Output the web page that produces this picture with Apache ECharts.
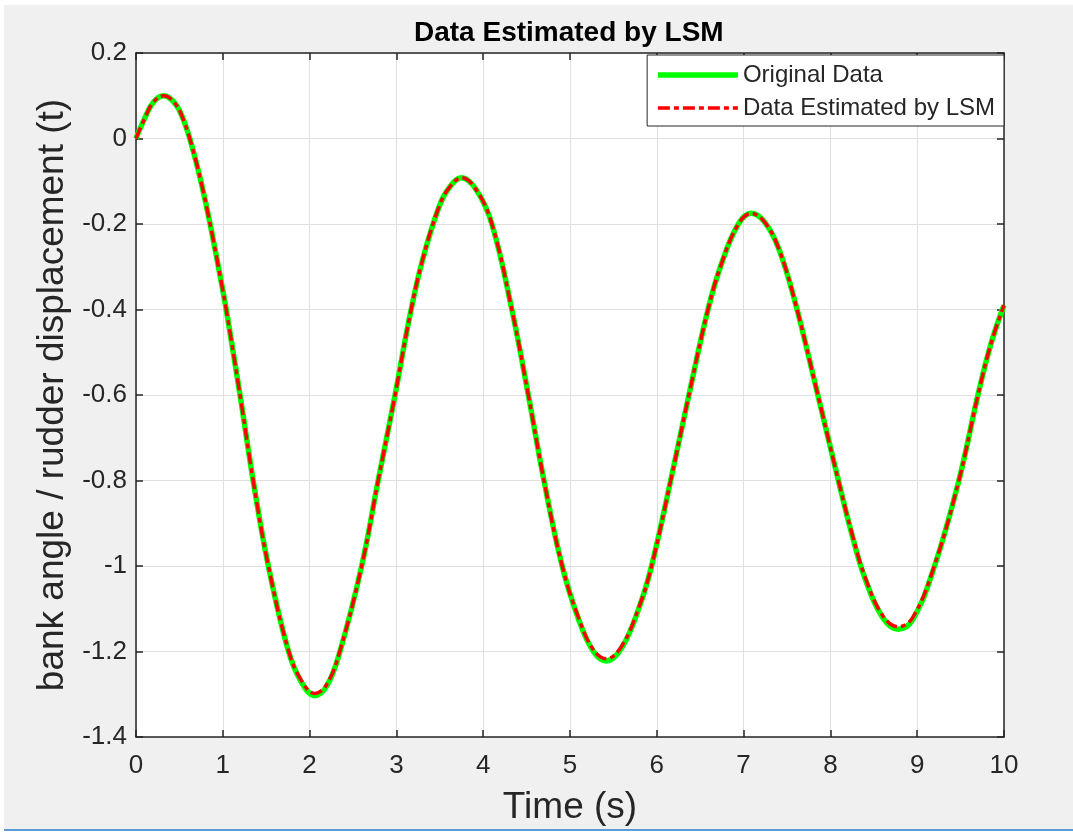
<!DOCTYPE html>
<html>
<head>
<meta charset="utf-8">
<title>Data Estimated by LSM</title>
<script src="https://cdn.jsdelivr.net/npm/echarts@6/dist/echarts.min.js"></script>
<style>
  html, body { margin: 0; padding: 0; background: #ffffff; }
  #fig { position: absolute; left: 4px; top: 5px; width: 1069px; height: 824px; background: #f0f0f0; border-bottom: 2px solid #5b9bd5; }
  #main { position: absolute; left: 0; top: 0; width: 1073px; height: 832px; }
</style>
</head>
<body>
<div id="fig"></div>
<div id="main"></div>
<script>
// values
var timeSec = [0, 0.1, 0.2, 0.32, 0.45, 0.55, 0.65, 0.75, 0.85, 1.0, 1.06,
  1.21, 1.35, 1.52, 1.75, 1.9, 2.06, 2.2, 2.35, 2.6, 2.79,
  2.98, 3.15, 3.3, 3.5, 3.62, 3.75, 3.92, 4.1, 4.33, 4.52, 4.7,
  4.91, 5.1, 5.27, 5.42, 5.6, 5.8, 5.94, 6.16, 6.37, 6.59,
  6.75, 6.94, 7.09, 7.24, 7.4, 7.59, 7.82, 8.08, 8.25, 8.4,
  8.6, 8.78, 8.95, 9.2, 9.48, 9.7, 9.85, 10];

var originalData = [0, 0.047, 0.085, 0.100, 0.082, 0.042, -0.022, -0.102, -0.196, -0.355, -0.425,
  -0.615, -0.80, -0.995, -1.195, -1.27, -1.303, -1.28, -1.2, -1.0, -0.8,
  -0.605, -0.42, -0.285, -0.155, -0.112, -0.092, -0.12, -0.2, -0.4, -0.6, -0.8,
  -1.0, -1.125, -1.2, -1.222, -1.19, -1.095, -1.0, -0.8, -0.6, -0.4,
  -0.29, -0.2, -0.175, -0.195, -0.255, -0.38, -0.57, -0.79, -0.928, -1.03,
  -1.12, -1.148, -1.125, -1.0, -0.8, -0.6, -0.48, -0.39];

var lsmData = [0, 0.047, 0.085, 0.100, 0.082, 0.042, -0.022, -0.102, -0.196, -0.355, -0.425,
  -0.615, -0.80, -0.995, -1.193, -1.266, -1.298, -1.276, -1.198, -1.0, -0.8,
  -0.605, -0.42, -0.285, -0.155, -0.112, -0.092, -0.12, -0.2, -0.4, -0.6, -0.8,
  -1.0, -1.122, -1.196, -1.217, -1.186, -1.093, -1.0, -0.8, -0.6, -0.4,
  -0.29, -0.2, -0.175, -0.195, -0.255, -0.38, -0.57, -0.79, -0.925, -1.026,
  -1.115, -1.142, -1.12, -0.998, -0.8, -0.6, -0.48, -0.39];

var xTicks = { min: 0, max: 10, interval: 1 };
var yTicks = { min: -1.4, max: 0.2, interval: 0.2 };

function pairs(xs, ys) {
  var out = [];
  for (var i = 0; i < xs.length; i++) {
    out.push([xs[i], ys[i]]);
  }
  return out;
}

var axisColor = '#262626';
var fontName = 'Liberation Sans';
var greenStyle = { color: '#00ff00', width: 5.5 };
var redStyle = { color: '#ff0000', width: 3.5, type: [12, 4, 5, 4] };

// box-style axes (ticks on all four sides, labels only bottom/left)
function frameAxis(pos, t) {
  return {
    type: 'value', position: pos,
    min: t.min, max: t.max, interval: t.interval,
    axisLine: { show: true, onZero: false, lineStyle: { color: axisColor, width: 1.5 } },
    axisTick: { show: true, inside: true, length: 7, lineStyle: { color: axisColor, width: 1.5 } },
    axisLabel: { show: false },
    splitLine: { show: false }
  };
}

var chart = echarts.init(document.getElementById('main'));

var option = {
  animation: false,
  title: {
    text: 'Data Estimated by LSM',
    left: 409,
    top: 14,
    textStyle: { fontFamily: fontName, fontSize: 28, fontWeight: 'bold', color: '#000' }
  },
  legend: {
    orient: 'vertical',
    right: 69,
    top: 55,
    padding: [8, 9, 6, 8],
    itemGap: 9,
    itemWidth: 80,
    itemHeight: 14,
    backgroundColor: '#ffffff',
    borderColor: axisColor,
    borderWidth: 1,
    borderRadius: 0,
    itemStyle: { opacity: 0 },
    textStyle: { fontFamily: fontName, fontSize: 24, color: axisColor },
    data: [
      { name: 'Original Data', lineStyle: greenStyle, itemStyle: { opacity: 0 } },
      { name: 'Data Estimated by LSM', lineStyle: redStyle, itemStyle: { opacity: 0 } }
    ]
  },
  grid: { show: true, left: 136, top: 53, right: 69, bottom: 95, backgroundColor: '#ffffff', borderWidth: 0 },
  xAxis: [{
    type: 'value',
    min: xTicks.min, max: xTicks.max, interval: xTicks.interval,
    name: 'Time (s)',
    nameLocation: 'middle',
    nameGap: 52,
    nameTextStyle: { fontFamily: fontName, fontSize: 37, color: axisColor },
    axisLine: { show: true, onZero: false, lineStyle: { color: axisColor, width: 1.5 } },
    axisTick: { show: true, inside: true, length: 7, lineStyle: { color: axisColor, width: 1.5 } },
    axisLabel: { margin: 16, fontFamily: fontName, fontSize: 26, color: axisColor },
    splitLine: { show: true, lineStyle: { color: '#dfdfdf', width: 1 } }
  }, frameAxis('top', xTicks)],
  yAxis: [{
    type: 'value',
    min: yTicks.min, max: yTicks.max, interval: yTicks.interval,
    name: 'bank angle / rudder displacement (t)',
    nameLocation: 'middle',
    nameGap: 64,
    nameTextStyle: { fontFamily: fontName, fontSize: 37, color: axisColor },
    axisLine: { show: true, onZero: false, lineStyle: { color: axisColor, width: 1.5 } },
    axisTick: { show: true, inside: true, length: 7, lineStyle: { color: axisColor, width: 1.5 } },
    axisLabel: { margin: 9, fontFamily: fontName, fontSize: 26, color: axisColor },
    splitLine: { show: true, lineStyle: { color: '#dfdfdf', width: 1 } }
  }, frameAxis('right', yTicks)],
  series: [{
    name: 'Original Data',
    type: 'line',
    xAxisIndex: 0, yAxisIndex: 0,
    symbol: 'none',
    smooth: 0.4,
    lineStyle: greenStyle,
    itemStyle: { color: '#00ff00' },
    data: pairs(timeSec, originalData)
  }, {
    name: 'Data Estimated by LSM',
    type: 'line',
    xAxisIndex: 0, yAxisIndex: 0,
    symbol: 'none',
    smooth: 0.4,
    lineStyle: redStyle,
    itemStyle: { color: '#ff0000' },
    data: pairs(timeSec, lsmData)
  }]
};

chart.setOption(option);
</script>
</body>
</html>
